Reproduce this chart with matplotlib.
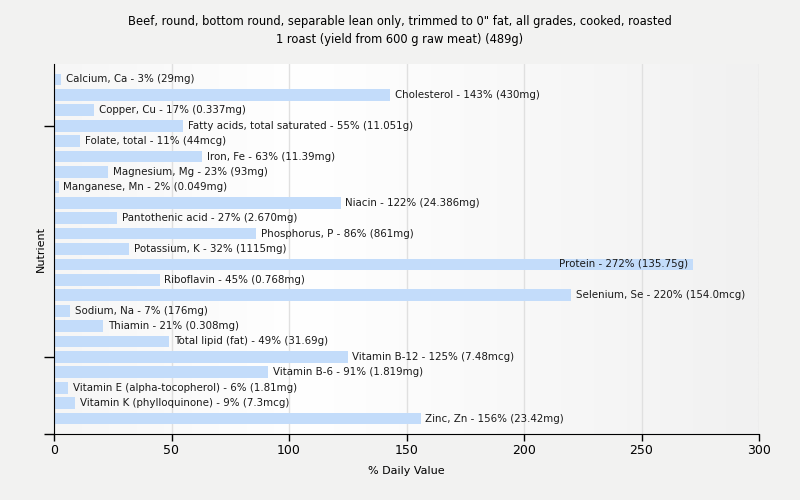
import matplotlib
matplotlib.use("Agg")
import matplotlib.pyplot as plt
import numpy as np
from matplotlib.colors import LinearSegmentedColormap

names = ["Calcium, Ca", "Cholesterol", "Copper, Cu", "Fatty acids, total saturated",
         "Folate, total", "Iron, Fe", "Magnesium, Mg", "Manganese, Mn", "Niacin",
         "Pantothenic acid", "Phosphorus, P", "Potassium, K", "Protein", "Riboflavin",
         "Selenium, Se", "Sodium, Na", "Thiamin", "Total lipid (fat)", "Vitamin B-12",
         "Vitamin B-6", "Vitamin E (alpha-tocopherol)", "Vitamin K (phylloquinone)", "Zinc, Zn"]
percents = [3, 143, 17, 55, 11, 63, 23, 2, 122, 27, 86, 32, 272, 45, 220, 7, 21, 49,
            125, 91, 6, 9, 156]
amounts = ["29mg", "430mg", "0.337mg", "11.051g", "44mcg", "11.39mg", "93mg", "0.049mg",
           "24.386mg", "2.670mg", "861mg", "1115mg", "135.75g", "0.768mg", "154.0mcg",
           "176mg", "0.308mg", "31.69g", "7.48mcg", "1.819mg", "1.81mg", "7.3mcg", "23.42mg"]
xticks = [0, 50, 100, 150, 200, 250, 300]

title = ('Beef, round, bottom round, separable lean only, trimmed to 0" fat, all grades, cooked, roasted\n'
         '1 roast (yield from 600 g raw meat) (489g)')

plt.rcParams['font.family'] = ['DejaVu Sans']
fig = plt.figure(figsize=(8, 5), dpi=100, facecolor='#f2f2f1')
ax = fig.add_axes([54/800, 1-434/500, (759-54)/800, (434-64)/500])
ax.set_facecolor('#f2f2f1')

# gradient background
cmap = LinearSegmentedColormap.from_list('bg', [(0.0, '#f6f6f6'), (0.35, '#ffffff'), (1.0, '#f1f1f1')])
grad = np.linspace(0, 1, 1024).reshape(1, -1)
ax.imshow(grad, aspect='auto', cmap=cmap, extent=[0, 300, 23, -1], zorder=0,
          interpolation='bilinear')

ax.set_xlim(0, 300)
ax.set_ylim(23, -1)
ax.set_xticks(xticks)
ax.set_xticklabels([str(t) for t in xticks], fontsize=9)
for t in xticks:
    ax.axvline(t, color='#e0e0e0', lw=1, zorder=1)

y = np.arange(len(names))
ax.barh(y, percents, height=0.76, color='#c3dcfa', zorder=2, left=0)

for i, (n, p, a) in enumerate(zip(names, percents, amounts)):
    label = f"{n} - {p}% ({a})"
    if p > 240:
        ax.text(p - 2, i, label, ha='right', va='center', fontsize=7.4, color='#1a1a1a', zorder=3)
    else:
        ax.text(p + 2, i, label, ha='left', va='center', fontsize=7.4, color='#1a1a1a', zorder=3)

ax.set_yticks([3, 18, 23])
ax.set_yticklabels([])
ax.tick_params(axis='y', length=7, width=1, color='black')
ax.tick_params(axis='x', length=5, width=1, color='black', pad=2)
for s in ['top', 'right']:
    ax.spines[s].set_visible(False)
ax.spines['left'].set_color('black')
ax.spines['bottom'].set_color('black')

ax.set_xlabel('% Daily Value', fontsize=8, labelpad=7)
ax.set_ylabel('Nutrient', fontsize=8)
ax.yaxis.set_label_coords(-0.012, 0.5)
fig.suptitle(title, fontsize=8.3, y=0.969, linespacing=1.5)

fig.savefig('out.png', dpi=100, facecolor=fig.get_facecolor())
